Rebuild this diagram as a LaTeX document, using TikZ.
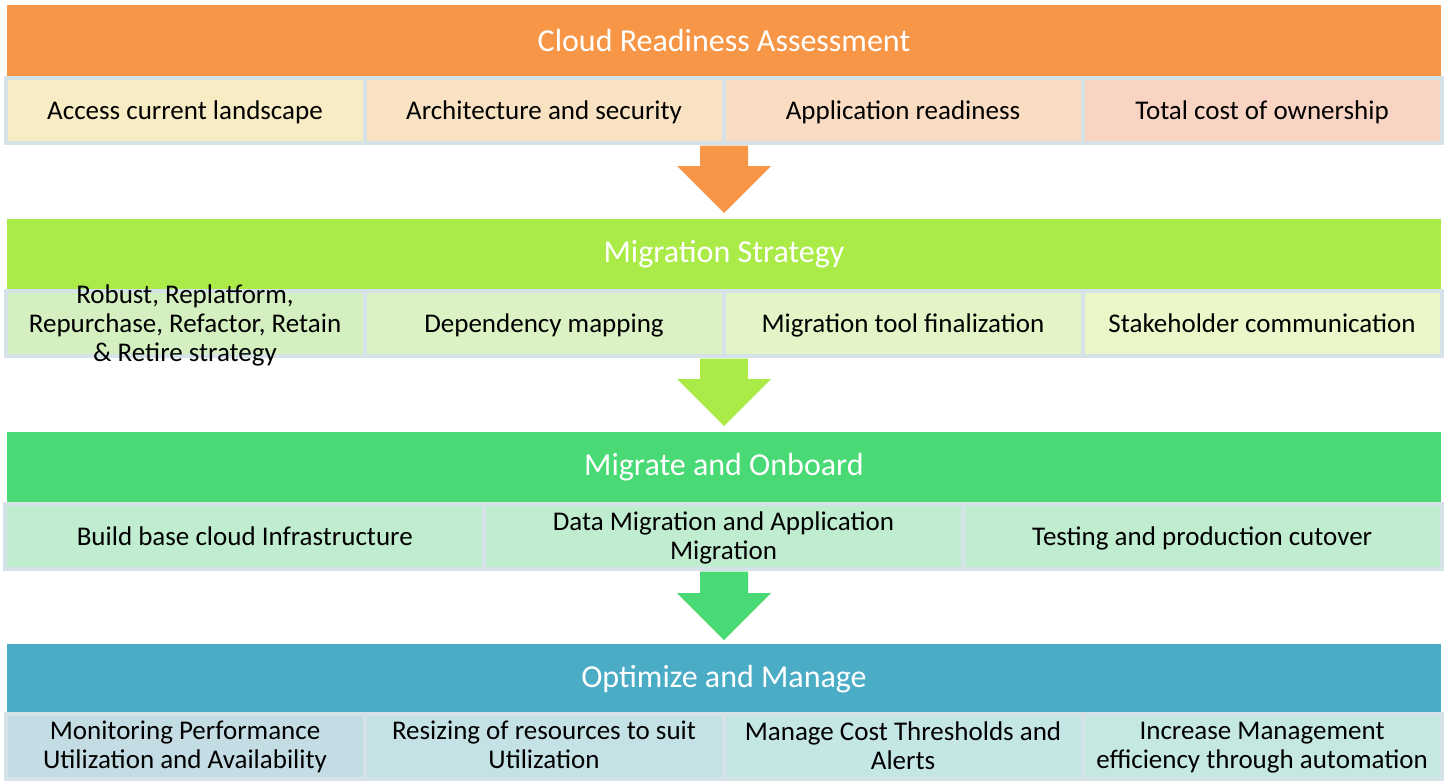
\documentclass[tikz,border=0pt]{standalone}
\usepackage{fontspec}
\setmainfont{Carlito}
\definecolor{hOrange}{RGB}{247,150,70}
\definecolor{hLime}{RGB}{171,235,72}
\definecolor{hGreen}{RGB}{73,217,117}
\definecolor{hBlue}{RGB}{75,172,198}
\definecolor{bord}{RGB}{213,227,232}
\definecolor{aA}{RGB}{248,236,196}
\definecolor{aB}{RGB}{249,226,193}
\definecolor{aC}{RGB}{249,220,193}
\definecolor{aD}{RGB}{249,212,194}
\definecolor{bA}{RGB}{212,240,192}
\definecolor{bB}{RGB}{219,242,196}
\definecolor{bC}{RGB}{227,245,199}
\definecolor{bD}{RGB}{235,247,200}
\definecolor{cA}{RGB}{192,237,208}
\definecolor{dA}{RGB}{196,221,229}
\definecolor{dB}{RGB}{196,226,230}
\definecolor{dC}{RGB}{196,230,228}
\definecolor{dD}{RGB}{197,233,224}
\tikzset{
  hdr/.style={rectangle, inner sep=0pt, minimum width=1434pt, minimum height=71pt, text=white, font=\fontsize{32}{36}\selectfont},
  subbox/.style={rectangle, draw=bord, line width=4pt, inner sep=0pt, minimum height=65pt},
  lbl/.style={align=center, text=black, font=\fontsize{27}{29}\selectfont, inner sep=0pt, yshift=-3.5pt,
    execute at begin node=\strut, execute at end node=\strut},
}
\begin{document}
\begin{tikzpicture}[x=1pt,y=-1pt]
\useasboundingbox[fill=white] (0,0) rectangle (1445,780);
% headers
\node[hdr, fill=hOrange] (h1) at (724,40.5) {Cloud Readiness Assessment};
\node[hdr, fill=hLime] (h2) at (724,254) {Migration Strategy};
\node[hdr, fill=hGreen] (h3) at (724,467.5) {Migrate and Onboard};
\node[hdr, fill=hBlue] (h4) at (724,679.5) {Optimize and Manage};
% row 1
\node[subbox, fill=aA, minimum width=359pt] (a1) at (185,110.5) {};
\node[subbox, fill=aB, minimum width=359pt] (a2) at (544,110.5) {};
\node[subbox, fill=aC, minimum width=359pt] (a3) at (903,110.5) {};
\node[subbox, fill=aD, minimum width=359pt] (a4) at (1262,110.5) {};
\node[lbl] at (a1) {Access current landscape};
\node[lbl] at (a2) {Architecture and security};
\node[lbl] at (a3) {Application readiness};
\node[lbl] at (a4) {Total cost of ownership};
% row 2
\node[subbox, fill=bA, minimum width=359pt] (b1) at (185,323.5) {};
\node[subbox, fill=bB, minimum width=359pt] (b2) at (544,323.5) {};
\node[subbox, fill=bC, minimum width=359pt] (b3) at (903,323.5) {};
\node[subbox, fill=bD, minimum width=359pt] (b4) at (1262,323.5) {};
\node[lbl] at (b1) {Robust, Replatform,\\Repurchase, Refactor, Retain\\\& Retire strategy};
\node[lbl] at (b2) {Dependency mapping};
\node[lbl] at (b3) {Migration tool finalization};
\node[lbl] at (b4) {Stakeholder communication};
% row 3
\node[subbox, fill=cA, minimum width=478.7pt] (c1) at (244.8,536.5) {};
\node[subbox, fill=cA, minimum width=478.7pt] (c2) at (723.5,536.5) {};
\node[subbox, fill=cA, minimum width=478.7pt] (c3) at (1202.2,536.5) {};
\node[lbl] at (c1) {Build base cloud Infrastructure};
\node[lbl] at (c2) {Data Migration and Application\\Migration};
\node[lbl] at (c3) {Testing and production cutover};
% row 4
\node[subbox, fill=dA, minimum width=359pt] (d1) at (185,746) {};
\node[subbox, fill=dB, minimum width=359pt] (d2) at (544,746) {};
\node[subbox, fill=dC, minimum width=359pt] (d3) at (903,746) {};
\node[subbox, fill=dD, minimum width=359pt] (d4) at (1262,746) {};
\node[lbl] at (d1) {Monitoring Performance\\Utilization and Availability};
\node[lbl] at (d2) {Resizing of resources to suit\\Utilization};
\node[lbl] at (d3) {Manage Cost Thresholds and\\Alerts};
\node[lbl] at (d4) {Increase Management\\efficiency through automation};
% block arrows
\fill[hOrange] (700,145.5) -- (748,145.5) -- (748,166) -- (771,166) -- (724,213) -- (677,166) -- (700,166) -- cycle;
\fill[hLime] (700,358.5) -- (748,358.5) -- (748,379) -- (771,379) -- (724,426) -- (677,379) -- (700,379) -- cycle;
\fill[hGreen] (700,571.5) -- (748,571.5) -- (748,593) -- (771,593) -- (724,640) -- (677,593) -- (700,593) -- cycle;
\end{tikzpicture}
\end{document}
